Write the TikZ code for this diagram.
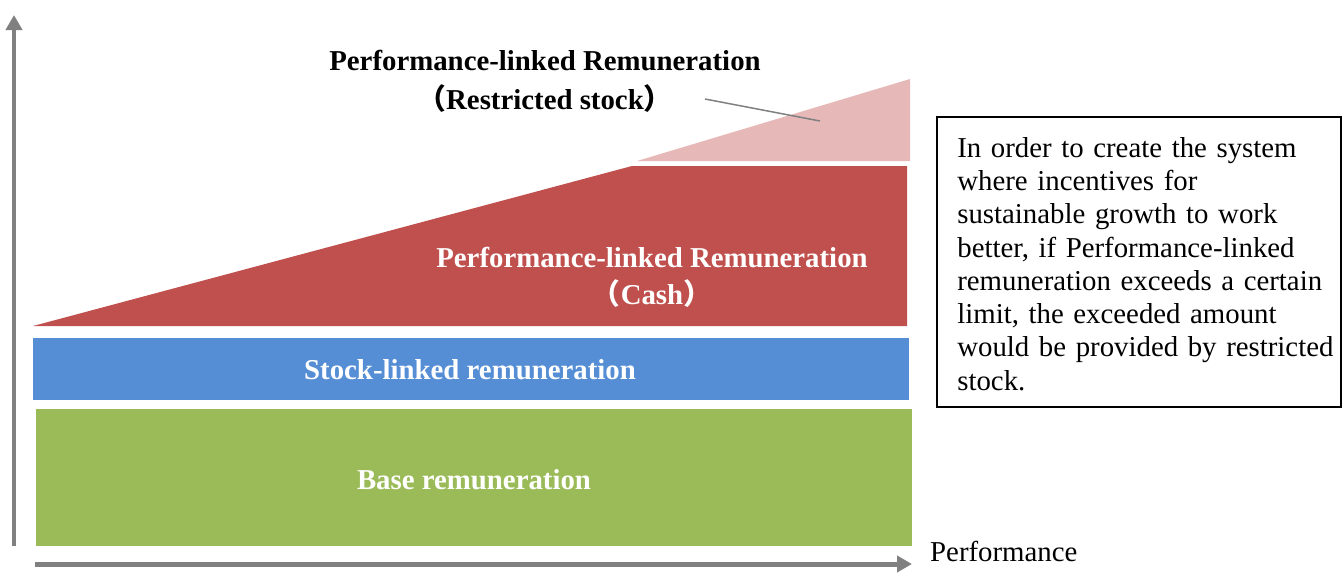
\documentclass[tikz,border=0pt]{standalone}
\usepackage{fontspec}
\setmainfont{Liberation Serif}
\newfontfamily\cjk{Noto Sans CJK JP}
\usetikzlibrary{arrows.meta}

\definecolor{axisgray}{RGB}{128,128,128}
\definecolor{basegreen}{RGB}{155,187,89}
\definecolor{stockblue}{RGB}{85,142,213}
\definecolor{cashred}{RGB}{192,80,77}
\definecolor{rspink}{RGB}{230,185,184}

\newcommand{\lpar}{{\cjk （}}
\newcommand{\rpar}{{\cjk ）}}

\begin{document}
\begin{tikzpicture}[x=0.02cm, y=-0.02cm,
    axis/.style={draw=axisgray, line width=0.1cm, -{Triangle[width=0.32cm,length=0.3cm]}},
    band/.style={font=\fontsize{16.4}{19}\selectfont\bfseries, text=white},
    blacklabel/.style={font=\fontsize{16.4}{19}\selectfont\bfseries}]
    \useasboundingbox (0, 0) rectangle (1343, 572);

    % bands
    \fill[basegreen] (36, 409) rectangle (912, 546);
    \fill[stockblue] (33, 338) rectangle (909, 400);
    \fill[cashred] (33, 326) -- (632, 166) -- (907, 166) -- (907, 326) -- cycle;
    \fill[rspink] (637, 161) -- (910, 79) -- (910, 161) -- cycle;

    % axes
    \coordinate (origin) at (14, 546);
    \coordinate (ytop) at (14, 15);
    \coordinate (xstart) at (35, 564);
    \coordinate (xend) at (912, 564);
    \draw[axis] (origin) -- (ytop);
    \draw[axis] (xstart) -- (xend);
    \node[anchor=west, font=\fontsize{16.4}{19}\selectfont] (perf) at (924, 551) {Performance};

    % labels
    \node[band] (baselbl) at (474, 480) {Base remuneration};
    \node[band] (stocklbl) at (470, 370) {Stock-linked remuneration};
    \node[band] (cashlbl) at (652, 258) {Performance-linked Remuneration};
    \node[band] (cashsub) at (652, 294) {\lpar Cash\rpar};
    \node[blacklabel] (rslbl) at (545, 61) {Performance-linked Remuneration};
    \node[blacklabel] (rssub) at (545, 99) {\lpar Restricted stock\rpar};

    % leader
    \coordinate (leadfrom) at (705, 99);
    \coordinate (leadto) at (820, 121);
    \draw[axisgray, line width=0.03cm] (leadfrom) -- (leadto);

    % note
    \node[draw, line width=0.05cm, minimum width=8.08cm, minimum height=5.8cm] (notebox) at (1139, 262) {};
    \node[anchor=west, inner sep=0, text width=7.65cm, align=left,
          font=\fontsize{16.4}{18.9}\selectfont] (note) at (957, 264)
        {In order to create the system\\
         where incentives for\\
         sustainable growth to work\\
         better, if Performance-linked\\
         remuneration exceeds a certain\\
         limit, the exceeded amount\\
         would be provided by restricted\\
         stock.};
\end{tikzpicture}
\end{document}
